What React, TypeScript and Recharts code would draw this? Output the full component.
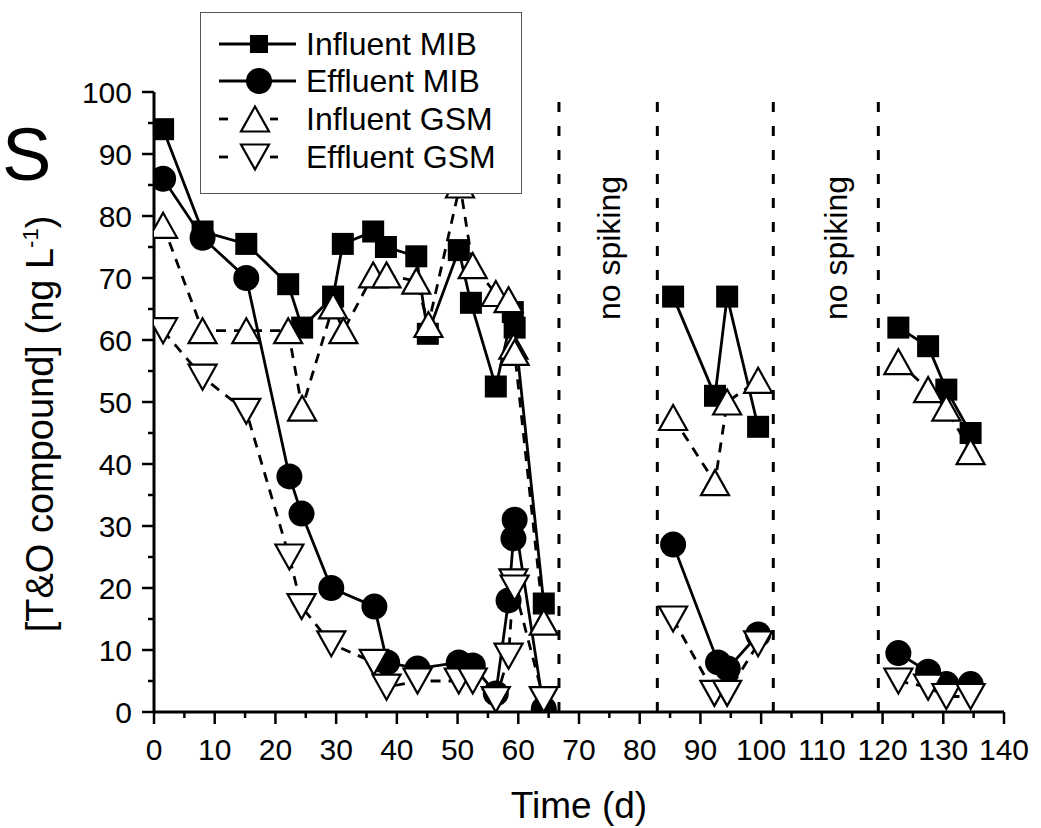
import React from "react"
import { ComposedChart, Line, XAxis, YAxis, ReferenceLine } from "recharts"

const FONT = "Arial, 'Liberation Sans', Helvetica, sans-serif"

// time (d) and concentration (ng/L); null = no sampling (no spiking) -> line break
const infMibDays = [1.5, 8, 15.2, 22.1, 24.4, 29.5, 31.1, 36.1, 38.2, 43.2, 45.1, 50.2, 52.2, 56.3, 59.1, 59.4, 64.2, 75, 85.5, 92.4, 94.4, 99.5, 110, 122.6, 127.5, 130.5, 134.5]
const infMibValues = [94, 77.5, 75.5, 69, 62, 67, 75.5, 77.5, 75, 73.5, 61, 74.5, 66, 52.5, 64.5, 62, 17.5, null, 67, 51, 67, 46, null, 62, 59, 52, 45]

const effMibDays = [1.5, 8, 15.2, 22.3, 24.3, 29.2, 36.3, 38.4, 43.4, 50.2, 52.5, 56.3, 58.4, 59.2, 59.4, 64.2, 75, 85.5, 92.9, 94.5, 99.5, 110, 122.6, 127.5, 130.5, 134.5]
const effMibValues = [86, 76.5, 70, 38, 32, 20, 17, 8, 7, 8, 7.5, 3, 18, 28, 31, 0.5, null, 27, 8, 7, 12.5, null, 9.5, 6.5, 4.5, 4.5]

const infGsmDays = [1.5, 8, 15.2, 22.1, 24.4, 29.5, 31.2, 36.1, 38.3, 43.2, 45.2, 50.4, 52.5, 56.3, 58.4, 59.2, 59.4, 64.2, 75, 85.5, 92.4, 94.4, 99.5, 110, 122.6, 127.5, 130.5, 134.5]
const infGsmValues = [78.5, 61.5, 61.5, 61.5, 49, 65.5, 61.5, 70.5, 70.5, 69.5, 62.5, 85, 72, 67.5, 66.5, 59, 58, 14.5, null, 47.5, 37, 50, 53.5, null, 56.5, 52, 49, 42]

const effGsmDays = [1.5, 8, 15.2, 22.3, 24.3, 29.2, 36.2, 38.3, 43.4, 50.2, 52.5, 56.3, 58.4, 59.2, 59.4, 64.2, 75, 85.5, 92.3, 94.4, 99.5, 110, 122.6, 127.5, 130.5, 134.5]
const effGsmValues = [61.5, 54, 48.5, 25, 17, 11, 8, 4, 5, 5, 5, 2, 9, 21, 20, 2, null, 15, 3, 3, 11, null, 5, 4, 2.5, 2.5]

const xTicks = [0, 5, 10, 15, 20, 25, 30, 35, 40, 45, 50, 55, 60, 65, 70, 75, 80, 85, 90, 95, 100, 105, 110, 115, 120, 125, 130, 135, 140]
const yTicks = [0, 5, 10, 15, 20, 25, 30, 35, 40, 45, 50, 55, 60, 65, 70, 75, 80, 85, 90, 95, 100]

const phaseBreaks = [66.7, 82.9, 102, 119.3]
const noSpikingAt = [76.8, 114.1]

const rows = (t: number[], v: (number | null)[]) => t.map((d, i) => ({ t: d, v: v[i] }))

type Mark = "square" | "circle" | "up" | "down"

function Marker({ cx, cy, kind, s = 1 }: { cx: number; cy: number; kind: Mark; s?: number }) {
  if (cx == null || cy == null || isNaN(cy)) return null
  if (kind === "square") {
    const w = 22 * s
    return <rect x={cx - w / 2} y={cy - w / 2} width={w} height={w} fill="#000" />
  }
  if (kind === "circle") return <circle cx={cx} cy={cy} r={13 * s} fill="#000" />
  const hw = 14 * s
  const hh = 12.5 * s
  const pts =
    kind === "up"
      ? `${cx},${cy - hh} ${cx + hw},${cy + hh} ${cx - hw},${cy + hh}`
      : `${cx},${cy + hh} ${cx + hw},${cy - hh} ${cx - hw},${cy - hh}`
  return <polygon points={pts} fill="#fff" stroke="#000" strokeWidth={2.2} strokeLinejoin="miter" />
}

const series = [
  { name: "Influent MIB", data: rows(infMibDays, infMibValues), mark: "square" as Mark, dash: undefined },
  { name: "Effluent MIB", data: rows(effMibDays, effMibValues), mark: "circle" as Mark, dash: undefined },
  { name: "Influent GSM", data: rows(infGsmDays, infGsmValues), mark: "up" as Mark, dash: "10 8" },
  { name: "Effluent GSM", data: rows(effGsmDays, effGsmValues), mark: "down" as Mark, dash: "10 8" },
]

const XTick = (p: any) => {
  const major = p.payload.value % 10 === 0
  return (
    <g>
      <line x1={p.x} x2={p.x} y1={p.y} y2={p.y + (major ? 12 : 6)} stroke="#000" strokeWidth={2.5} />
      {major && (
        <text x={p.x} y={p.y + 48} textAnchor="middle" fontSize={30} fontFamily={FONT} fill="#000">
          {p.payload.value}
        </text>
      )}
    </g>
  )
}

const YTick = (p: any) => {
  const major = p.payload.value % 10 === 0
  return (
    <g>
      <line x1={p.x - (major ? 12 : 6)} x2={p.x} y1={p.y} y2={p.y} stroke="#000" strokeWidth={2.5} />
      {major && (
        <text x={p.x - 22} y={p.y + 11} textAnchor="end" fontSize={30} fontFamily={FONT} fill="#000">
          {p.payload.value}
        </text>
      )}
    </g>
  )
}

const xTitle = (p: any) => {
  const vb = p.viewBox
  return (
    <text x={vb.x + vb.width / 2} y={vb.y + 106} textAnchor="middle" fontSize={37} fontFamily={FONT} fill="#000">
      Time (d)
    </text>
  )
}

const yTitle = (p: any) => {
  const vb = p.viewBox
  const x = vb.x + 53
  const y = vb.y + vb.height / 2 + 22
  return (
    <text x={x} y={y} transform={`rotate(-90 ${x} ${y})`} textAnchor="middle" fontSize={38} fontFamily={FONT} fill="#000">
      [T&amp;O compound] (ng L
      <tspan dy={-15} fontSize={22}>-1</tspan>
      <tspan dy={15}>)</tspan>
    </text>
  )
}

const noSpikingLabel = (p: any) => {
  const vb = p.viewBox
  const x = vb.x
  const y = vb.y + 156
  return (
    <text x={x} y={y} transform={`rotate(-90 ${x} ${y})`} textAnchor="middle" fontSize={32} fontFamily={FONT} fill="#000">
      no spiking
    </text>
  )
}

function LegendBox() {
  const rowY = [31, 68, 106, 144]
  return (
    <div
      style={{
        position: "absolute",
        left: 200,
        top: 12,
        width: 322,
        height: 182,
        boxSizing: "border-box",
        border: "1.5px solid #555",
        background: "#fff",
      }}
    >
      <svg width={320} height={180} style={{ position: "absolute", left: 0, top: 0 }}>
        {series.map((s, i) => {
          const y = rowY[i]
          return (
            <g key={s.name}>
              {s.dash ? (
                <>
                  <line x1={18} x2={27} y1={y} y2={y} stroke="#000" strokeWidth={2.8} />
                  <line x1={69} x2={77} y1={y} y2={y} stroke="#000" strokeWidth={2.8} />
                </>
              ) : (
                <line x1={18} x2={95} y1={y} y2={y} stroke="#000" strokeWidth={2.8} />
              )}
              <Marker cx={s.dash ? 54 : 58} cy={y} kind={s.mark} s={s.mark === "square" ? 0.82 : 1} />
              <text x={105} y={y + 11} fontSize={32} fontFamily={FONT} fill="#000">
                {s.name}
              </text>
            </g>
          )
        })}
      </svg>
    </div>
  )
}

export default function App() {
  return (
    <div style={{ position: "absolute", left: 0, top: 0, width: 1041, height: 828, background: "#fff", overflow: "hidden" }}>
      <ComposedChart width={1041} height={828} margin={{ top: 92, right: 37, bottom: 0, left: 0 }}>
        <XAxis
          type="number"
          dataKey="t"
          domain={[0, 140]}
          ticks={xTicks}
          interval={0}
          allowDataOverflow
          height={116}
          tickLine={false}
          tickSize={0}
          tickMargin={0}
          axisLine={{ stroke: "#000", strokeWidth: 3 }}
          tick={XTick}
          label={xTitle}
        />
        <YAxis
          type="number"
          domain={[0, 100]}
          ticks={yTicks}
          interval={0}
          allowDataOverflow
          width={154}
          tickLine={false}
          tickSize={0}
          tickMargin={0}
          axisLine={{ stroke: "#000", strokeWidth: 3 }}
          tick={YTick}
          label={yTitle}
        />
        {phaseBreaks.map((d) => (
          <ReferenceLine key={d} x={d} stroke="#000" strokeWidth={3} strokeDasharray="10 14" />
        ))}
        {noSpikingAt.map((d) => (
          <ReferenceLine key={"ns" + d} x={d} stroke="none" label={noSpikingLabel} />
        ))}
        {series.map((s) => (
          <Line
            key={s.name}
            data={s.data}
            dataKey="v"
            name={s.name}
            stroke="#000"
            strokeWidth={2.8}
            strokeDasharray={s.dash}
            connectNulls={false}
            isAnimationActive={false}
            dot={(p: any) => <Marker key={s.name + p.index} cx={p.cx} cy={p.cy} kind={s.mark} />}
            activeDot={false}
          />
        ))}
      </ComposedChart>
      <svg width={70} height={200} style={{ position: "absolute", left: 0, top: 0 }}>
        <text x={2} y={180} fontSize={74} fontFamily={FONT} fill="#000">
          S
        </text>
      </svg>
      <LegendBox />
    </div>
  )
}
